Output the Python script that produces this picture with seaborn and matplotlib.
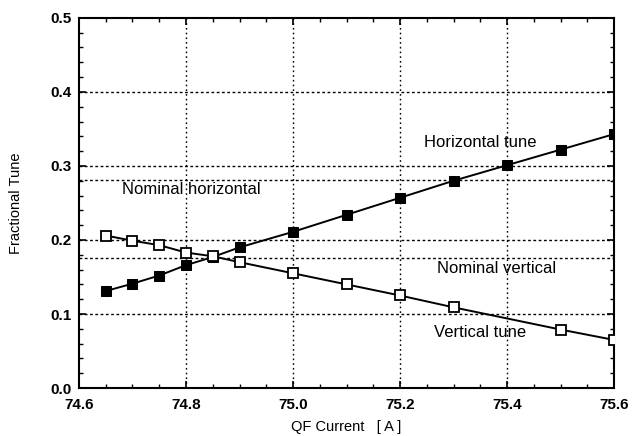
import matplotlib
matplotlib.use("Agg")
import matplotlib.pyplot as plt
from matplotlib.ticker import MultipleLocator, FormatStrFormatter
import seaborn as sns
import pandas as pd

# Data
horiz_current = [74.65, 74.70, 74.75, 74.80, 74.85, 74.90, 75.00, 75.10, 75.20, 75.30, 75.40, 75.50, 75.60]
horiz_tune = [0.131, 0.141, 0.152, 0.166, 0.177, 0.190, 0.211, 0.234, 0.257, 0.280, 0.301, 0.322, 0.343]
vert_current = [74.65, 74.70, 74.75, 74.80, 74.85, 74.90, 75.00, 75.10, 75.20, 75.30, 75.50, 75.60]
vert_tune = [0.206, 0.199, 0.193, 0.183, 0.178, 0.170, 0.155, 0.140, 0.125, 0.109, 0.079, 0.065]
nominal_horizontal = 0.281
nominal_vertical = 0.175

x_major = [74.6, 74.8, 75.0, 75.2, 75.4, 75.6]
y_major = [0.0, 0.1, 0.2, 0.3, 0.4, 0.5]

sns.set_theme(style="ticks")
plt.rcParams['font.family'] = ['Liberation Sans', 'DejaVu Sans']

fig = plt.figure(figsize=(6.37, 4.36), dpi=100)
ax = fig.add_axes([0.124, 0.110, 0.840, 0.849])

dfh = pd.DataFrame({"x": horiz_current, "y": horiz_tune})
dfv = pd.DataFrame({"x": vert_current, "y": vert_tune})

# grid
for xv in x_major[1:-1]:
    ax.axvline(xv, color="black", lw=1.0, ls=(0, (1.2, 2.2)), zorder=1)
for yv in y_major[1:-1]:
    ax.axhline(yv, color="black", lw=1.0, ls=(0, (2, 1.8)), zorder=1)
ax.axhline(nominal_horizontal, color="black", lw=1.0, ls=(0, (2, 1.8)), zorder=1)
ax.axhline(nominal_vertical, color="black", lw=1.0, ls=(0, (2, 1.8)), zorder=1)

sns.lineplot(data=dfh, x="x", y="y", ax=ax, color="black", lw=1.4,
             marker="s", markersize=7, markerfacecolor="black",
             markeredgecolor="black", zorder=3)
sns.lineplot(data=dfv, x="x", y="y", ax=ax, color="black", lw=1.4,
             marker="s", markersize=7, markerfacecolor="white",
             markeredgecolor="black", markeredgewidth=1.3, zorder=3)

ax.set_xlim(74.6, 75.6)
ax.set_ylim(0.0, 0.5)
ax.set_xticks(x_major)
ax.set_yticks(y_major)
ax.xaxis.set_major_formatter(FormatStrFormatter("%.1f"))
ax.yaxis.set_major_formatter(FormatStrFormatter("%.1f"))
ax.xaxis.set_minor_locator(MultipleLocator(0.05))
ax.yaxis.set_minor_locator(MultipleLocator(0.02))
ax.tick_params(which="both", direction="in", top=True, right=True,
               colors="black", labelsize=11)
ax.tick_params(which="major", length=5, width=1.2)
ax.tick_params(which="minor", length=3, width=1.0)
ax.tick_params(axis="x", pad=7)
ax.tick_params(axis="y", pad=5)
for lab in ax.get_xticklabels() + ax.get_yticklabels():
    lab.set_fontweight("bold")
for s in ax.spines.values():
    s.set_linewidth(1.5)
    s.set_color("black")

ax.set_xlabel("QF Current   [ A ]", fontsize=10.5, color="black", labelpad=6)
ax.set_ylabel("Fractional Tune", fontsize=10.5, color="black", labelpad=20)

ax.text(75.35, 0.331, "Horizontal tune", fontsize=12, ha="center", va="center", color="black")
ax.text(74.81, 0.268, "Nominal horizontal", fontsize=12, ha="center", va="center", color="black")
ax.text(75.38, 0.161, "Nominal vertical", fontsize=12, ha="center", va="center", color="black")
ax.text(75.35, 0.0745, "Vertical tune", fontsize=12, ha="center", va="center", color="black")

fig.savefig("out.png", dpi=100)
